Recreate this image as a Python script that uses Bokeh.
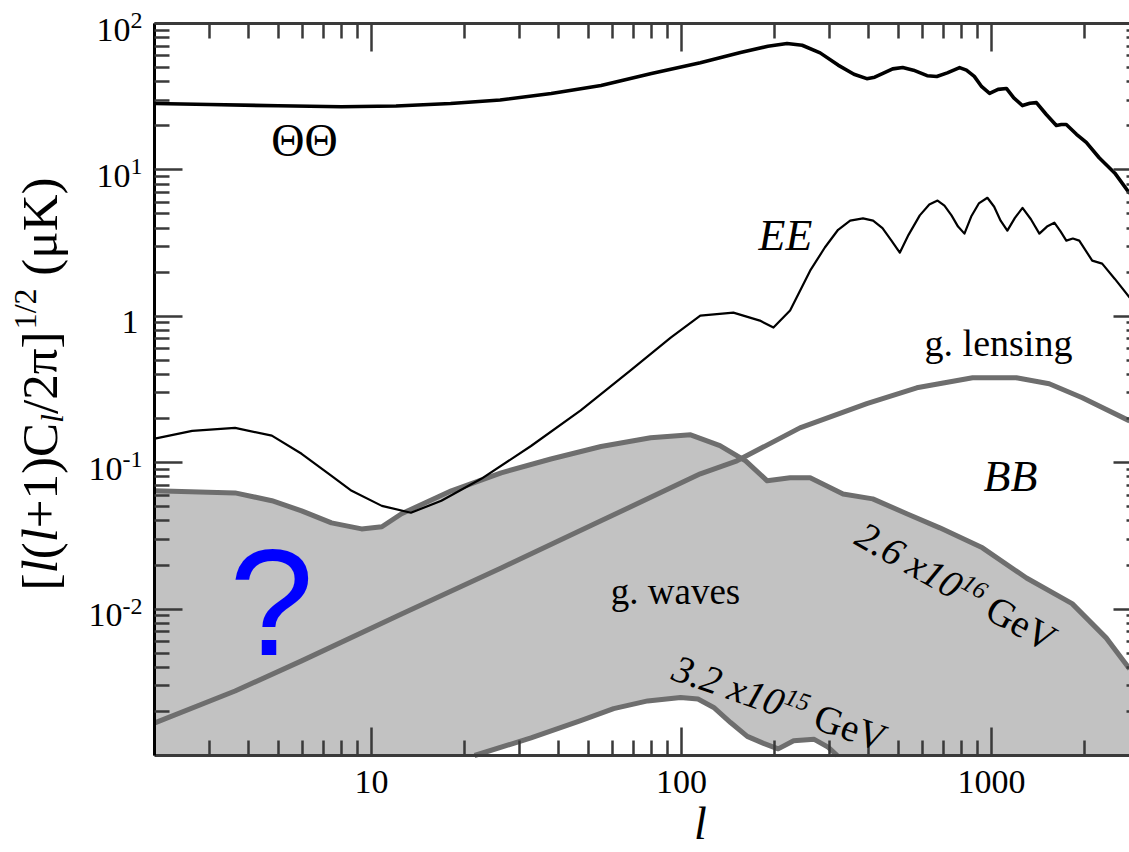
import math
from bokeh.plotting import figure
from bokeh.models import LogAxis, FixedTicker, Label, CustomJSTickFormatter
from bokeh.embed import file_html
from bokeh.resources import INLINE

# ---------------- data ----------------
tt_l = [2, 3, 5, 8, 12, 18, 26, 38, 55, 80, 115, 155, 190, 219, 245, 280, 320, 360, 396, 420,
        450, 480, 517, 560, 620, 666, 720, 789, 830, 880, 930, 986, 1050, 1117, 1180, 1259,
        1330, 1396, 1500, 1619, 1680, 1743, 1880, 2022, 2225, 2500, 2790]
tt_v = [28.4, 28.0, 27.4, 27.0, 27.3, 28.4, 30, 33.3, 37.7, 45.5, 54, 63.4, 70, 73, 71, 63, 52,
        45, 42, 43, 46, 49, 50, 48, 44, 43.5, 46, 50, 48, 43.5, 37, 33.3, 35.5, 36, 31, 27.5,
        28.5, 28.8, 24, 20.1, 20.4, 20.4, 17.5, 15.4, 12.1, 9.5, 6.9]

ee_l = [2, 2.64, 3.63, 4.77, 5.95, 7.43, 8.63, 10.8, 13.4, 16.8, 22.6, 32.7, 47.3, 68.5, 92.3,
        115, 147, 179, 198, 224, 260, 290, 320, 350, 385, 415, 445, 475, 506, 540, 587, 630,
        670, 705, 743, 780, 818, 860, 910, 970, 1020, 1070, 1125, 1190, 1259, 1340, 1427,
        1510, 1595, 1670, 1743, 1830, 1919, 2113, 2275, 2500, 2790]
ee_v = [0.146, 0.165, 0.173, 0.153, 0.115, 0.0813, 0.0643, 0.0507, 0.0455, 0.055, 0.0776, 0.13,
        0.2275, 0.4266, 0.716, 1.01, 1.06, 0.935, 0.838, 1.095, 2.05, 2.95, 3.9, 4.5, 4.66,
        4.5, 4.0, 3.3, 2.72, 3.6, 4.89, 5.8, 6.17, 5.7, 4.89, 4.1, 3.67, 4.8, 5.9, 6.45, 5.6,
        4.5, 3.85, 4.7, 5.5, 4.6, 3.67, 4.1, 4.36, 3.8, 3.29, 3.4, 3.29, 2.4, 2.29, 1.8, 1.34]

lens_l = [2, 3.63, 5.95, 12.5, 26.2, 55, 115, 151, 241, 396, 574, 869, 1203, 1535, 1963, 2790]
lens_v = [0.00167, 0.00276, 0.00443, 0.00927, 0.0191, 0.0401, 0.0839, 0.103, 0.173, 0.253,
          0.325, 0.38, 0.38, 0.346, 0.278, 0.193]

gw_hi_l = [2, 3.63, 4.77, 5.95, 7.43, 9.29, 10.8, 12.5, 18.1, 26.2, 37.9, 55, 79.5, 107, 133,
           161, 189, 224, 260, 332, 414, 533, 681, 935, 1297, 1820, 2344, 2790]
gw_hi_v = [0.0643, 0.0622, 0.055, 0.0469, 0.0388, 0.0353, 0.0365, 0.0448, 0.0643, 0.0853, 0.106,
           0.129, 0.148, 0.155, 0.131, 0.103, 0.0752, 0.0788, 0.0788, 0.0612, 0.0566, 0.0448,
           0.0359, 0.0262, 0.0163, 0.0109, 0.00636, 0.0039]

gw_lo_l = [21.5, 32.7, 47.3, 60.4, 77.8, 99.3, 113, 127, 144, 163, 184, 205, 230, 268, 297, 318]
gw_lo_v = [0.001, 0.00132, 0.00173, 0.00209, 0.00236, 0.00249, 0.00243, 0.00213,
           0.00168, 0.00135, 0.00121, 0.00111, 0.00126, 0.00129, 0.00114, 0.001]

x_tick_values = [10, 100, 1000]
x_tick_labels = ["10", "100", "1000"]
y_tick_values = [1e-2, 1e-1, 1, 10, 100]
y_tick_base = ["10", "10", "1", "10", "10"]
y_tick_exp = ["-2", "-1", "", "1", "2"]

L_MIN, Y_MIN, Y_MAX = 2, 1e-3, 1e2


# ---------------- pixel <-> data helpers (layout only) ----------------
def dx(px):
    return 10 ** (1 + (px - 371) / 310.0)


def dy(py):
    return 10 ** (2 - (py - 23) / 146.4)


def py_of(v):
    return 23 + (2 - math.log10(v)) * 146.4


W, H = 1129, 852
p = figure(width=W, height=H, x_axis_type="log", y_axis_type="log",
           x_range=(dx(0), dx(W)), y_range=(dy(H), dy(0)),
           output_backend="svg", toolbar_location=None,
           min_border=0, min_border_left=0, min_border_right=0,
           min_border_top=0, min_border_bottom=0)
p.outline_line_color = None
p.grid.visible = False
p.background_fill_color = "white"
p.border_fill_color = "white"

x_minor = [m * 10 ** e for e in range(0, 4) for m in range(2, 10)]
y_minor = [m * 10.0 ** e for e in range(-3, 2) for m in range(2, 10)]
blank = CustomJSTickFormatter(code="return ''")


def style_axis(ax, line_color="#3a3a3a", tick_in=28, minor_in=15):
    ax.major_tick_in = tick_in
    ax.major_tick_out = 0
    ax.minor_tick_in = minor_in
    ax.minor_tick_out = 0
    ax.major_tick_line_width = 2.5
    ax.minor_tick_line_width = 2.5
    ax.major_tick_line_color = "#3a3a3a"
    ax.minor_tick_line_color = "#3a3a3a"
    ax.axis_line_width = 3
    ax.axis_line_color = line_color
    ax.formatter = blank
    ax.major_label_text_font_size = "0px"
    ax.major_label_standoff = 0


xa = p.xaxis[0]
xa.ticker = FixedTicker(ticks=x_tick_values, minor_ticks=x_minor)
xa.fixed_location = Y_MIN
xa.bounds = (L_MIN, dx(W + 20))
style_axis(xa)

ya = p.yaxis[0]
ya.ticker = FixedTicker(ticks=y_tick_values, minor_ticks=y_minor)
ya.fixed_location = L_MIN
ya.bounds = (Y_MIN, Y_MAX)
style_axis(ya, line_color="black")

top = LogAxis(ticker=FixedTicker(ticks=x_tick_values, minor_ticks=x_minor),
              fixed_location=Y_MAX, bounds=(L_MIN, dx(W + 20)))
style_axis(top)
p.add_layout(top, "above")

right = LogAxis(ticker=FixedTicker(ticks=y_tick_values, minor_ticks=y_minor),
                fixed_location=dx(1141), bounds=(Y_MIN, Y_MAX))
style_axis(right)
p.add_layout(right, "right")

# ---------------- marks ----------------
patch_x = gw_hi_l + [gw_hi_l[-1], gw_lo_l[-1]] + gw_lo_l[::-1] + [gw_lo_l[0], gw_hi_l[0]]
patch_y = gw_hi_v + [Y_MIN, Y_MIN] + gw_lo_v[::-1] + [Y_MIN, Y_MIN]
p.patch(patch_x, patch_y, fill_color="#c2c2c2", line_color=None)

GRAY = "#6e6e6e"
p.line(gw_hi_l, gw_hi_v, line_color=GRAY, line_width=5, line_join="round")
p.line(gw_lo_l, gw_lo_v, line_color=GRAY, line_width=5, line_join="round")
p.line(lens_l, lens_v, line_color=GRAY, line_width=5, line_join="round")
p.line(ee_l, ee_v, line_color="black", line_width=2.2, line_join="round")
p.line(tt_l, tt_v, line_color="black", line_width=3.6, line_join="round")


# ---------------- text ----------------
def lab(text, px, py, size, style="normal", color="black", font="Liberation Serif",
        align="left", angle=0.0, x=None, y=None):
    p.add_layout(Label(x=dx(px) if x is None else x, y=dy(py) if y is None else y,
                       text=text, text_font=font,
                       text_font_size=f"{size}px", text_font_style=style,
                       text_color=color, text_align=align, text_baseline="middle",
                       angle=angle))


EM = {" ": 0.25, "(": 0.333, ")": 0.333, "[": 0.333, "]": 0.333, "+": 0.564, "/": 0.278,
      "-": 0.333, ".": 0.25, "C": 0.667, "G": 0.722, "K": 0.722, "V": 0.722, "e": 0.444,
      "l": 0.278, "x": 0.444, "μ": 0.5, "π": 0.55}


def width_em(s):
    return sum(EM.get(c, 0.5) for c in s)


def rich(px, py, angle_deg, pieces):
    """(px, py): start of the text's middle line; rise: offset of a piece's middle line."""
    a = math.radians(angle_deg)
    ux, uy = math.cos(a), -math.sin(a)
    vx, vy = -math.sin(a), -math.cos(a)
    adv = 0.0
    for text, size, style, rise in pieces:
        t = text.lstrip(" ")
        adv += (len(text) - len(t)) * 0.25 * size
        lab(t, px + ux * adv + vx * rise, py + uy * adv + vy * rise, size, style, angle=a)
        adv += width_em(t) * size


# tick labels
for v, t in zip(x_tick_values, x_tick_labels):
    lab(t, 0, 781, 34, align="center", x=v)
for v, b, e in zip(y_tick_values, y_tick_base, y_tick_exp):
    ty = py_of(v)
    if e:
        edge = 142 - width_em(e) * 24
        lab(b, edge, ty + 6, 34, align="right")
        lab(e, edge, ty - 3, 24, align="left")
    else:
        lab(b, 138, ty + 6, 34, align="right")

# curve labels
lab("ΘΘ", 304, 140, 46, align="center")
lab("EE", 785, 235, 44, style="italic", align="center")
lab("g. lensing", 998, 342, 38, align="center")
lab("BB", 1010, 476, 44, style="italic", align="center")
lab("g. waves", 675, 591, 37, align="center")
lab("?", 271, 601, 152, color="#0000ff", font="Liberation Sans", align="center")

rich(859, 531, -29.5, [("2.6 x10", 39, "italic", 0), ("16", 25, "italic", 9),
                       (" GeV", 39, "normal", 0)])
rich(674, 666, -19, [("3.2 x10", 39, "italic", 0), ("15", 25, "italic", 9),
                     (" GeV", 39, "normal", 0)])

# axis titles
lab("l", 700, 823, 46, style="italic", align="center")
rich(39, 590, 90, [("[", 51, "normal", 0), ("l", 51, "italic", 0), ("(", 51, "normal", 0),
                   ("l", 51, "italic", 0), ("+1)C", 51, "normal", 0), ("l", 32, "italic", -12),
                   ("/2π]", 51, "normal", 0), ("1/2", 32, "normal", 15),
                   (" (μK)", 51, "normal", 0)])

open("out.html", "w").write(file_html(p, INLINE))
